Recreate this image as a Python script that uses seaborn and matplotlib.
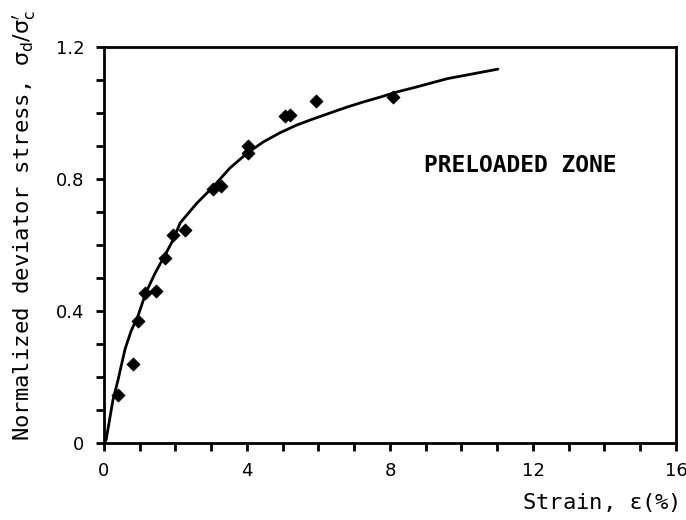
import matplotlib
matplotlib.use("Agg")
import matplotlib.pyplot as plt
from matplotlib.ticker import MultipleLocator
import seaborn as sns
import pandas as pd

# Measured test points: strain (%) vs normalized deviator stress
strain_pts = [0.39, 0.81, 0.95, 1.15, 1.45, 1.70, 1.93, 2.27, 3.05, 3.27,
              4.03, 4.03, 5.06, 5.20, 5.93, 8.08]
stress_pts = [0.145, 0.24, 0.37, 0.455, 0.46, 0.56, 0.63, 0.645, 0.77, 0.78,
              0.90, 0.88, 0.99, 0.995, 1.035, 1.05]

# Fitted stress-strain curve
strain_fit = [0.0, 0.06, 0.25, 0.39, 0.59, 0.76, 0.95, 1.17, 1.43, 1.71, 1.93,
              2.13, 2.60, 3.05, 3.52, 4.00, 4.45, 4.92, 5.40, 5.85, 6.32,
              6.80, 7.24, 7.72, 8.20, 8.64, 9.60, 11.02]
stress_fit = [0.0, 0.01, 0.13, 0.19, 0.285, 0.34, 0.385, 0.455, 0.515, 0.57,
              0.615, 0.667, 0.727, 0.776, 0.833, 0.878, 0.912, 0.940, 0.964,
              0.982, 1.0, 1.018, 1.033, 1.048, 1.064, 1.076, 1.104, 1.133]

x_ticks = [0, 4, 8, 12, 16]
y_ticks = [0, 0.4, 0.8, 1.2]
y_tick_labels = ["0", "0.4", "0.8", "1.2"]

pts = pd.DataFrame({"strain": strain_pts, "stress": stress_pts})
fit = pd.DataFrame({"strain": strain_fit, "stress": stress_fit})

sns.set_style("ticks")
plt.rcParams["font.family"] = ["DejaVu Sans Mono", "DejaVu Sans"]
plt.rcParams["mathtext.fontset"] = "dejavusans"
plt.rcParams["text.color"] = "black"
plt.rcParams["xtick.color"] = "black"
plt.rcParams["ytick.color"] = "black"
plt.rcParams["axes.labelcolor"] = "black"

fig = plt.figure(figsize=(6.86, 5.2), dpi=100)
ax = fig.add_axes([0.1516, 0.148, 0.8338, 0.7616])

sns.lineplot(data=fit, x="strain", y="stress", ax=ax, color="black",
             linewidth=2.0, sort=False)
sns.scatterplot(data=pts, x="strain", y="stress", ax=ax, color="black",
                marker="D", s=45, edgecolor="black", linewidth=0.5, zorder=3)

ax.set_xlim(0, 16)
ax.set_ylim(0, 1.2)
ax.set_xticks(x_ticks)
ax.set_yticks(y_ticks)
ax.set_yticklabels(y_tick_labels)
ax.xaxis.set_minor_locator(MultipleLocator(1))
ax.yaxis.set_minor_locator(MultipleLocator(0.1))
ax.tick_params(which="both", direction="out", width=2, color="black",
               labelcolor="black", labelsize=13, pad=8, length=6)
for lab in ax.get_xticklabels() + ax.get_yticklabels():
    lab.set_family("DejaVu Sans")
    lab.set_fontweight("medium")

for sp in ax.spines.values():
    sp.set_visible(True)
    sp.set_linewidth(2)
    sp.set_color("black")

ax.set_xlabel(r"Strain, $\mathrm{\epsilon}$(%)", fontsize=16, labelpad=2)
ax.xaxis.set_label_coords(1.005, -0.12)
ax.xaxis.label.set_horizontalalignment("right")
ax.set_ylabel(r"Normalized deviator stress, $\mathrm{\sigma_d/\sigma_c'}$",
              fontsize=16, labelpad=4)
ax.yaxis.set_label_coords(-0.116, 0.55)

ax.text(11.64, 0.842, "PRELOADED ZONE", fontsize=16.5, ha="center",
        va="center", color="black", fontweight="semibold")

fig.savefig("out.png", dpi=100)
